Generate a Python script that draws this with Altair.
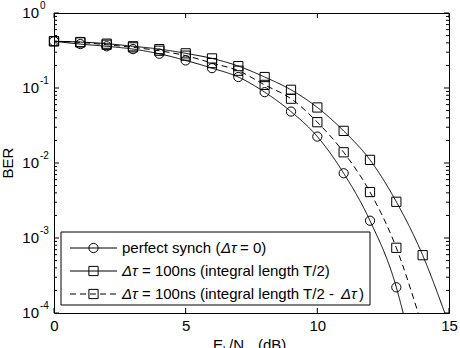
import altair as alt
import pandas as pd

FONT = "Liberation Sans"

# ---- data -------------------------------------------------------------
snr_db = list(range(15))

ber_perfect = [0.42, 0.385, 0.36, 0.33, 0.286, 0.233, 0.184, 0.14, 0.088,
               0.0485, 0.0225, 0.0073, 0.0017, 0.00022]
ber_half = [0.42, 0.41, 0.39, 0.36, 0.33, 0.29, 0.248, 0.196, 0.14,
            0.0946, 0.055, 0.0268, 0.011, 0.00304, 0.00059]
ber_half_minus = [0.42, 0.405, 0.377, 0.348, 0.314, 0.27, 0.215, 0.17, 0.11,
                  0.072, 0.035, 0.0139, 0.0041, 0.00074]

series_names = ["perfect", "half", "half_minus"]
series_ber = [ber_perfect, ber_half, ber_half_minus]
# Eb/N0 at which each fitted curve drops through BER = 1e-4
curve_end_db = [13.26, 14.84, 13.83]
curve_end_ber = 1e-4

x_tick_values = [0, 5, 10, 15]
y_major = [1e-4, 1e-3, 1e-2, 1e-1, 1]
y_exponents = ["-4", "-3", "-2", "-1", "0"]

# ---- tables -----------------------------------------------------------
pts_rows, curve_rows = [], []
for name, ber, end in zip(series_names, series_ber, curve_end_db):
    for x, b in zip(snr_db, ber):
        pts_rows.append({"series": name, "snr": x, "ber": b})
        curve_rows.append({"series": name, "snr": x, "ber": b})
    curve_rows.append({"series": name, "snr": end, "ber": curve_end_ber})
pts = pd.DataFrame(pts_rows)
curves = pd.DataFrame(curve_rows)

y_minor = [m * 10.0 ** e for e in range(-4, 0) for m in range(2, 10)]
major_df = pd.DataFrame({"v": y_major, "exp": y_exponents})
minor_df = pd.DataFrame({"v": y_minor})
xt_df = pd.DataFrame({"x": x_tick_values})
one = pd.DataFrame({"_": [0]})

# ---- scales / encodings ------------------------------------------------
W, H = 395, 300
x_scale = alt.Scale(domain=[0, 15], nice=False, zero=False)
y_scale = alt.Scale(type="log", domain=[1e-4, 1], nice=False)
x_axis = alt.Axis(values=x_tick_values, ticks=False, domain=False, grid=False,
                  labelFont=FONT, labelFontSize=15, labelColor="black",
                  labelPadding=5, labelFlush=False, labelOverlap=False,
                  format="d", title=None)


def xenc(field):
    return alt.X(f"{field}:Q", scale=x_scale, axis=x_axis)


def yenc(field):
    return alt.Y(f"{field}:Q", scale=y_scale, axis=None)


dash_scale = alt.Scale(domain=series_names, range=[[1, 0], [1, 0], [6, 4]])
shape_scale = alt.Scale(domain=series_names, range=["circle", "square", "square"])

layers = []

# fitted curves
layers.append(
    alt.Chart(curves).mark_line(interpolate="monotone", color="black",
                                strokeWidth=1, clip=True).encode(
        x=xenc("snr"), y=yenc("ber"),
        strokeDash=alt.StrokeDash("series:N", scale=dash_scale, legend=None),
        detail="series:N",
    )
)
# simulated points
layers.append(
    alt.Chart(pts).mark_point(filled=False, size=85, color="black",
                              strokeWidth=1, opacity=1).encode(
        x=xenc("snr"), y=yenc("ber"),
        shape=alt.Shape("series:N", scale=shape_scale, legend=None),
    )
)

# inward ticks on all four sides
for df, length in ((major_df, 5), (minor_df, 3)):
    layers.append(alt.Chart(df).mark_rule(color="black", strokeWidth=1).encode(
        y=yenc("v"), x=alt.value(0), x2=alt.value(length)))
    layers.append(alt.Chart(df).mark_rule(color="black", strokeWidth=1).encode(
        y=yenc("v"), x=alt.value(W), x2=alt.value(W - length)))
layers.append(alt.Chart(xt_df).mark_rule(color="black", strokeWidth=1).encode(
    x=xenc("x"), y=alt.value(H), y2=alt.value(H - 5)))
layers.append(alt.Chart(xt_df).mark_rule(color="black", strokeWidth=1).encode(
    x=xenc("x"), y=alt.value(0), y2=alt.value(5)))

# y tick labels: 10 with a raised exponent
layers.append(alt.Chart(major_df).mark_text(
    align="right", baseline="middle", font=FONT, fontSize=15, color="black").encode(
    y=yenc("v"), x=alt.value(-15), text=alt.value("10")))
layers.append(alt.Chart(major_df).mark_text(
    align="left", baseline="middle", font=FONT, fontSize=10, color="black", dy=-7).encode(
    y=yenc("v"), x=alt.value(-14), text="exp:N"))

# axis titles
layers.append(alt.Chart(one).mark_text(
    angle=270, align="center", baseline="middle", font=FONT, fontSize=15,
    color="black").encode(x=alt.value(-46), y=alt.value(H / 2), text=alt.value("BER")))

for s, xp, dy, fs in (("E", 159, 0, 15), ("b", 169, 4, 10), ("/N", 175, 0, 15),
                      ("o", 190, 4, 10), ("(dB)", 204, 0, 15)):
    layers.append(alt.Chart(one).mark_text(
        align="left", baseline="alphabetic", font=FONT, fontSize=fs, color="black",
        dy=dy).encode(x=alt.value(xp), y=alt.value(337), text=alt.value(s)))

# legend box
layers.append(alt.Chart(one).mark_rect(fill="white", stroke="black", strokeWidth=1).encode(
    x=alt.value(7), x2=alt.value(316), y=alt.value(219), y2=alt.value(292)))

legend_rows = [
    ([1, 0], "circle", 235, [("perfect synch (", 68, "normal"), ("\u0394\u03c4", 167, "italic"),
                             ("= 0)", 186, "normal")]),
    ([1, 0], "square", 258, [("\u0394\u03c4", 68, "italic"),
                             ("= 100ns (integral length T/2)", 88, "normal")]),
    ([6, 4], "square", 281, [("\u0394\u03c4", 68, "italic"),
                             ("= 100ns (integral length T/2 - ", 88, "normal"),
                             ("\u0394\u03c4", 287, "italic"), (")", 305, "normal")]),
]
for dash, shape, ry, pieces in legend_rows:
    layers.append(alt.Chart(one).mark_rule(color="black", strokeWidth=1, strokeDash=dash).encode(
        x=alt.value(16), x2=alt.value(63), y=alt.value(ry)))
    layers.append(alt.Chart(one).mark_point(shape=shape, filled=False, size=85, color="black",
                                            strokeWidth=1, opacity=1).encode(
        x=alt.value(39.5), y=alt.value(ry)))
    for s, xp, style in pieces:
        layers.append(alt.Chart(one).mark_text(
            align="left", baseline="middle", font=FONT, fontSize=15, fontStyle=style,
            color="black").encode(x=alt.value(xp), y=alt.value(ry), text=alt.value(s)))

chart = alt.layer(*layers).properties(
    width=W, height=H,
    padding={"left": 54, "top": 13, "right": 11, "bottom": 35},
    autosize="none",
    background="white",
).configure_view(stroke="black", strokeWidth=1)

chart.save("out.html", embed_options={"renderer": "svg", "actions": False})
